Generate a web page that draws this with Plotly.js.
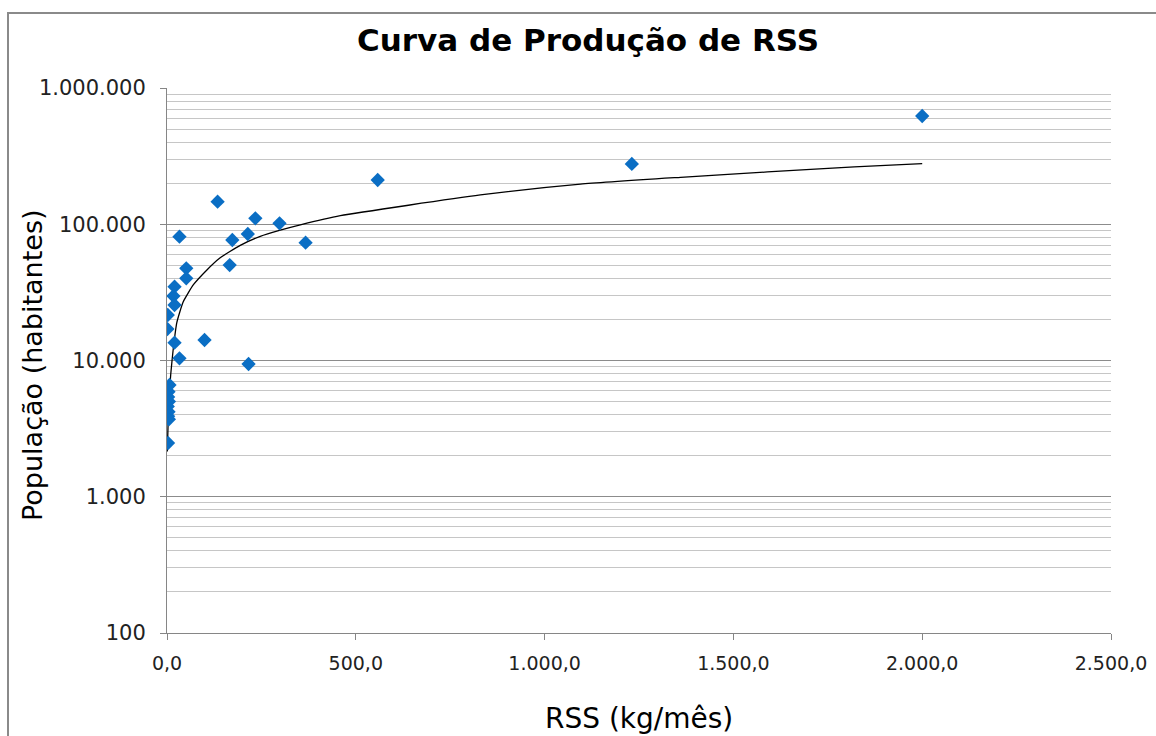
<!DOCTYPE html>
<html>
<head>
<meta charset="utf-8">
<script src="https://cdn.plot.ly/plotly-3.0.1.min.js"></script>
<style>
  html, body { margin: 0; padding: 0; background: #fff; }
  #wrap { position: relative; width: 1156px; height: 736px; }
  #chart { width: 1156px; height: 736px; }
  #frame { position: absolute; left: 7px; top: 12px; right: 0; bottom: 0;
           border-left: 2px solid #8a8a8a; border-top: 2px solid #8a8a8a; pointer-events: none; }
</style>
</head>
<body>
<div id="wrap">
  <div id="chart"></div>
  <div id="frame"></div>
</div>
<script>
// Scatter data: RSS (kg/mês) vs População (habitantes)
const rssX = [2000, 1231, 558, 367, 298, 234, 214, 134, 173, 166, 99.4, 216,
              33, 51, 51, 20, 17, 20, 2, 1, 20, 33,
              6.6, 4, 3, 5, 2, 4, 3, 5, 2.7];
const popY = [623000, 277000, 211300, 73200, 101600, 110600, 84800, 146400, 76630, 50200, 14140, 9425,
              81000, 47500, 40120, 34800, 29750, 25550, 21580, 17030, 13510, 10380,
              6610, 5900, 5400, 5000, 4600, 4200, 3900, 3700, 2480];

// Trend line
const trendX = [0.8, 3, 6, 10, 17, 26, 43, 70, 105, 140, 194, 247, 300, 353, 459, 830, 1095, 1360, 1590, 1820, 2000];
const trendY = [2150, 3500, 5300, 8000, 12500, 19000, 27000, 36000, 46000, 56500, 70000, 81500, 90500, 99000,
                115500, 164000, 197000, 221000, 242000, 264000, 279000];

const chartTitle = 'Curva de Produção de RSS';
const xTitle = 'RSS (kg/mês)';
const yTitle = 'População (habitantes)';

const FONT = 'DejaVu Sans, Liberation Sans, Arial, sans-serif';

const traces = [
  {
    x: trendX, y: trendY, type: 'scatter', mode: 'lines',
    line: { color: '#000000', width: 1.3, shape: 'spline', smoothing: 0.5 },
    hoverinfo: 'skip', showlegend: false
  },
  {
    x: rssX, y: popY, type: 'scatter', mode: 'markers',
    marker: { symbol: 'diamond', size: 11, color: '#0A6EC4', line: { width: 0 } },
    showlegend: false
  }
];

const layout = {
  width: 1156, height: 736,
  margin: { l: 167, r: 45, t: 88, b: 103 },
  paper_bgcolor: '#ffffff', plot_bgcolor: '#ffffff',
  separators: ',.',
  showlegend: false,
  title: {
    text: '<b>' + chartTitle + '</b>',
    font: { family: FONT, size: 31, color: '#000000' },
    x: 588 / 1156, xref: 'container', xanchor: 'center',
    y: 1 - 40 / 736, yref: 'container', yanchor: 'middle'
  },
  xaxis: {
    range: [0, 2500], dtick: 500, tick0: 0, tickformat: ',.1f',
    showgrid: false, zeroline: false,
    showline: true, linecolor: '#868686', linewidth: 1,
    ticks: 'outside', ticklen: 6, tickcolor: '#868686',
    ticklabelstandoff: 7,
    tickfont: { family: FONT, size: 19, color: '#222222' },
    fixedrange: true
  },
  yaxis: {
    type: 'log', range: [2, 6], dtick: 1, tickformat: ',.0f',
    showgrid: true, gridcolor: '#8c8c8c', gridwidth: 1,
    minor: { dtick: 'D1', showgrid: true, gridcolor: '#c6c6c6', gridwidth: 1, ticks: '' },
    zeroline: false,
    showline: true, linecolor: '#868686', linewidth: 1,
    ticks: 'outside', ticklen: 6, tickcolor: '#868686',
    ticklabelstandoff: 10,
    tickfont: { family: FONT, size: 21, color: '#222222' },
    fixedrange: true
  },
  annotations: [
    {
      text: xTitle, xref: 'paper', yref: 'paper',
      x: 0.5, y: (633 - 718) / 545, xanchor: 'center', yanchor: 'middle',
      showarrow: false, font: { family: FONT, size: 28, color: '#000000' }
    },
    {
      text: yTitle, xref: 'paper', yref: 'paper', textangle: -90,
      x: (32 - 167) / 944, y: (633 - 365) / 545, xanchor: 'center', yanchor: 'middle',
      showarrow: false, font: { family: FONT, size: 27, color: '#000000' }
    }
  ]
};

Plotly.newPlot('chart', traces, layout, { displayModeBar: false, staticPlot: true });
</script>
</body>
</html>
